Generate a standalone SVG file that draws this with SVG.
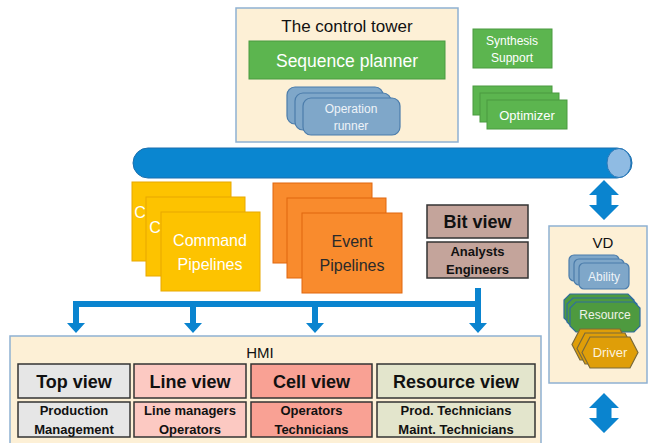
<svg xmlns="http://www.w3.org/2000/svg" width="648" height="443" viewBox="0 0 648 443">
<defs>
<style>
text{font-family:"Liberation Sans",Arial,sans-serif;text-anchor:middle}
.panel{fill:#fdf0d6;stroke:#8fb1d2;stroke-width:1.5}
.green{fill:#5cb54f;stroke:#4a9a40;stroke-width:1}
.wt{fill:#ffffff}
.run{fill:#7fa7c9;stroke:#4b7cab;stroke-width:1.2}
.yel{fill:#fdc300;stroke:#e8a800;stroke-width:1}
.org{fill:#f98b2d;stroke:#e0670e;stroke-width:1}
.bit{fill:#c4a49b;stroke:#333;stroke-width:1.5}
.blue{fill:#0a84cf}
.res{fill:#4e9a3f;stroke:#2f6d9e;stroke-width:1.2}
.drv{fill:#df9e08;stroke:#7a6a3a;stroke-width:1.2}
.hd{font-weight:bold;font-size:18px;fill:#111}
.sb{font-weight:bold;font-size:13px;fill:#111}
.vs{stroke:#333;stroke-width:1.5}
</style>
</defs>

<g id="control-tower">
<rect class="panel" x="236" y="8" width="222" height="134"/>
<text x="347" y="32" font-size="17" fill="#111">The control tower</text>
</g>
<g id="sequence-planner">
<rect class="green" x="249" y="41" width="196" height="38"/>
<text class="wt" x="347" y="67" font-size="17.5">Sequence planner</text>
</g>
<g id="operation-runner">
<rect class="run" x="287" y="87" width="96" height="37" rx="8"/>
<rect class="run" x="295" y="93" width="96" height="37" rx="8"/>
<rect class="run" x="303" y="98" width="97" height="37" rx="8"/>
<text x="351" y="113" font-size="12" fill="#eef3f8">Operation</text>
<text x="351" y="130" font-size="12" fill="#eef3f8">runner</text>
</g>
<g id="synthesis-support">
<rect class="green" x="473" y="29" width="79" height="39"/>
<text class="wt" x="512" y="45" font-size="12">Synthesis</text>
<text class="wt" x="512" y="62" font-size="12">Support</text>
</g>
<g id="optimizer">
<rect class="green" x="473" y="86" width="79" height="29"/>
<rect class="green" x="480" y="93" width="79" height="29"/>
<rect class="green" x="487" y="100" width="80" height="29"/>
<text class="wt" x="527" y="120" font-size="13">Optimizer</text>
</g>

<g id="bus">
<rect x="133" y="148" width="499" height="30" rx="15" fill="#0a86d0" stroke="#1b6fae" stroke-width="1"/>
<ellipse cx="619" cy="163" rx="12" ry="14.5" fill="#8fbbe3" stroke="#2a78b8" stroke-width="1"/>
</g>

<g id="command-pipelines">
<rect class="yel" x="132" y="182" width="99" height="79"/>
<text class="wt" x="140" y="218" font-size="16" text-anchor="start">C</text>
<rect class="yel" x="146" y="197" width="99" height="79"/>
<text class="wt" x="155" y="233" font-size="16" text-anchor="start">C</text>
<rect class="yel" x="161" y="212" width="99" height="79"/>
<text class="wt" x="210" y="246" font-size="16">Command</text>
<text class="wt" x="210" y="270" font-size="16">Pipelines</text>
</g>
<g id="event-pipelines">
<rect class="org" x="273" y="183" width="99" height="80"/>
<rect class="org" x="287" y="198" width="99" height="80"/>
<rect class="org" x="302" y="213" width="100" height="80"/>
<text x="352" y="247" font-size="16" fill="#2a2a2a">Event</text>
<text x="352" y="271" font-size="16" fill="#2a2a2a">Pipelines</text>
</g>
<g id="bit-view">
<rect class="bit" x="427" y="205" width="101" height="33"/>
<text class="hd" x="477.5" y="228">Bit view</text>
<rect class="bit" x="427" y="242" width="101" height="36"/>
<text class="sb" x="477.5" y="256">Analysts</text>
<text class="sb" x="477.5" y="274">Engineers</text>
</g>

<g id="connectors">
<path class="blue" d="M475,288 H481 V307 H79 V323 H85 L76,333 L67,323 H73 V301 H475 Z"/>
<path class="blue" d="M190,307 H196 V323 H202 L193,333 L184,323 H190 Z"/>
<path class="blue" d="M312,307 H318 V323 H324 L315,333 L306,323 H312 Z"/>
<path class="blue" d="M475,307 H481 V323 H487 L478,333 L469,323 H475 Z"/>
<path class="blue" d="M604,180 L619,195 L611.5,195 L611.5,205 L619,205 L604,220 L589,205 L596.5,205 L596.5,195 L589,195 Z"/>
<path class="blue" d="M604,393 L619,408 L611.5,408 L611.5,418 L619,418 L604,433 L589,418 L596.5,418 L596.5,408 L589,408 Z"/>
</g>

<g id="vd">
<rect class="panel" x="549" y="226" width="98" height="157"/>
<text x="603" y="248" font-size="15" fill="#111">VD</text>
</g>
<g id="ability">
<rect class="run" x="569" y="255" width="50" height="26" rx="5"/>
<rect class="run" x="574" y="259" width="50" height="26" rx="5"/>
<rect class="run" x="579" y="263" width="50" height="26" rx="5"/>
<text x="604" y="281" font-size="12" fill="#eef3f8">Ability</text>
</g>
<g id="resource">
<path class="res" d="M570,294 H628 L634,300 V318 L628,324 H570 L564,318 V300 Z"/>
<path class="res" d="M573,298 H631 L637,304 V322 L631,328 H573 L567,322 V304 Z"/>
<path class="res" d="M576,302 H634 L640,308 V326 L634,332 H576 L570,326 V308 Z"/>
<text x="605" y="319" font-size="12" fill="#eef3e8">Resource</text>
</g>
<g id="driver">
<path class="drv" d="M580,329 H620 L628,344.5 L620,360 H580 L572,344.5 Z"/>
<path class="drv" d="M585,333 H625 L633,348.5 L625,364 H585 L577,348.5 Z"/>
<path class="drv" d="M590,337 H630 L638,352.5 L630,368 H590 L582,352.5 Z"/>
<text x="610" y="357" font-size="13" fill="#fdf3de">Driver</text>
</g>

<g id="hmi">
<rect class="panel" x="10" y="336" width="531" height="112"/>
<text x="260" y="358" font-size="15" fill="#111">HMI</text>
</g>
<g id="top-view">
<rect class="vs" x="18" y="364" width="112" height="34" fill="#e6e6e6"/>
<text class="hd" x="74" y="388">Top view</text>
<rect class="vs" x="18" y="402" width="112" height="35" fill="#e6e6e6"/>
<text class="sb" x="74" y="415">Production</text>
<text class="sb" x="74" y="434">Management</text>
</g>
<g id="line-view">
<rect class="vs" x="134" y="364" width="112" height="34" fill="#fcc9c2"/>
<text class="hd" x="190" y="388">Line view</text>
<rect class="vs" x="134" y="402" width="112" height="35" fill="#fcc9c2"/>
<text class="sb" x="190" y="415">Line managers</text>
<text class="sb" x="190" y="434">Operators</text>
</g>
<g id="cell-view">
<rect class="vs" x="251" y="364" width="121" height="34" fill="#f9a194"/>
<text class="hd" x="311.5" y="388">Cell view</text>
<rect class="vs" x="251" y="402" width="121" height="35" fill="#f9a194"/>
<text class="sb" x="311.5" y="415">Operators</text>
<text class="sb" x="311.5" y="434">Technicians</text>
</g>
<g id="resource-view">
<rect class="vs" x="377" y="364" width="158" height="34" fill="#e3e5cc"/>
<text class="hd" x="456" y="388">Resource view</text>
<rect class="vs" x="377" y="402" width="158" height="35" fill="#e3e5cc"/>
<text class="sb" x="456" y="415">Prod. Technicians</text>
<text class="sb" x="456" y="434">Maint. Technicians</text>
</g>
</svg>
